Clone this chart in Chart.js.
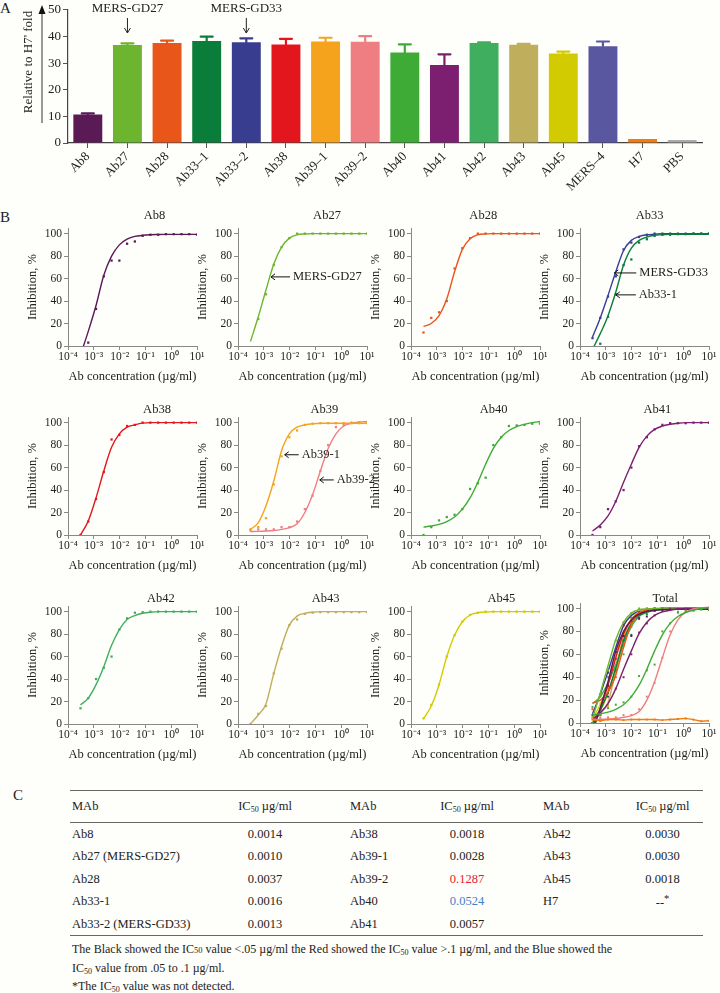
<!DOCTYPE html>
<html>
<head>
<meta charset="utf-8">
<title>MERS antibodies</title>
<script src="https://cdn.jsdelivr.net/npm/chart.js@4.4.0/dist/chart.umd.min.js"></script>
<style>
  body { margin:0; width:720px; height:993px; position:relative; overflow:hidden; background:#fefefb;
         font-family:"Liberation Serif","Times New Roman",serif; color:#222; }
  .lbl { position:absolute; font-size:15px; line-height:16px; }
  canvas { position:absolute; }
  table { position:absolute; left:70px; top:790px; width:633px; border-collapse:collapse; table-layout:fixed; font-size:12.5px; }
  th, td { padding:0; white-space:nowrap; font-weight:normal; overflow:visible; }
  thead tr { height:32px; border-top:1.5px solid #666; border-bottom:1.5px solid #666; }
  tbody tr { height:22.7px; }
  tbody tr:last-child { border-bottom:1.5px solid #666; }
  .l1 { text-align:left; padding-left:2px; }
  .l3 { text-align:left; padding-left:20px; }
  .l5 { text-align:left; padding-left:26px; }
  .c { text-align:center; }
  sub { font-size:8px; vertical-align:-2px; }
  .red { color:#e8202a; } .blue { color:#3d7fc8; }
  .note { position:absolute; left:72px; font-size:12px; line-height:14.5px; }
  .sm { font-size:8.5px; }
</style>
</head>
<body>
<div class="lbl" style="left:0;top:0">A</div>
<div class="lbl" style="left:0;top:209px">B</div>
<div class="lbl" style="left:13px;top:787px">C</div>
<canvas id="barA" width="720" height="195" style="left:0;top:0"></canvas>

<table>
  <colgroup><col style="width:130px"><col style="width:130px"><col style="width:87px"><col style="width:100px"><col style="width:105px"><col style="width:81px"></colgroup>
  <thead><tr><th class="l1">MAb</th><th class="c">IC<sub>50</sub> µg/ml</th><th class="l3">MAb</th><th class="c">IC<sub>50</sub> µg/ml</th><th class="l5">MAb</th><th class="c">IC<sub>50</sub> µg/ml</th></tr></thead>
  <tbody>
    <tr><td class="l1">Ab8</td><td class="c">0.0014</td><td class="l3">Ab38</td><td class="c">0.0018</td><td class="l5">Ab42</td><td class="c">0.0030</td></tr>
    <tr><td class="l1">Ab27 (MERS-GD27)</td><td class="c">0.0010</td><td class="l3">Ab39-1</td><td class="c">0.0028</td><td class="l5">Ab43</td><td class="c">0.0030</td></tr>
    <tr><td class="l1">Ab28</td><td class="c">0.0037</td><td class="l3">Ab39-2</td><td class="c red">0.1287</td><td class="l5">Ab45</td><td class="c">0.0018</td></tr>
    <tr><td class="l1">Ab33-1</td><td class="c">0.0016</td><td class="l3">Ab40</td><td class="c blue">0.0524</td><td class="l5">H7</td><td class="c">--<sup>*</sup></td></tr>
    <tr><td class="l1">Ab33-2 (MERS-GD33)</td><td class="c">0.0013</td><td class="l3">Ab41</td><td class="c">0.0057</td><td class="l5"></td><td class="c"></td></tr>
  </tbody>
</table>
<div class="note" style="top:942px">The Black showed the IC<span class="sm">50</span> value &lt;.05 µg/ml the Red showed the IC<sub>50</sub> value &gt;.1 µg/ml, and the Blue showed the<br>IC<sub>50</sub> value from .05 to .1 µg/ml.</div>
<div class="note" style="top:979px">*The IC<sub>50</sub> value was not detected.</div>

<script>
const F = '"Liberation Serif", "Times New Roman", serif';

// ---- panel A: fold over H7
const abLabels = ['Ab8','Ab27','Ab28','Ab33–1','Ab33–2','Ab38','Ab39–1','Ab39–2','Ab40','Ab41','Ab42','Ab43','Ab45','MERS–4','H7','PBS'];
const foldMean = [10.7, 36.8, 37.5, 38.3, 37.8, 37.0, 38.1, 38.0, 34.0, 29.3, 37.5, 36.9, 33.6, 36.3, 1.5, 1.1];
const foldErr  = [0.4, 0.6, 0.9, 1.6, 1.5, 2.1, 1.4, 2.1, 3.0, 4.0, 0.3, 0.3, 0.7, 1.8, 0, 0];
const foldTicks = [0, 10, 20, 30, 40, 50];
const barColors = ['#5a1a56','#6db52f','#e9561a','#0b7d3b','#393d8f','#e2161c','#f5a31d','#ef7e82',
                   '#3fab37','#7c1f70','#3faf5f','#bfae5c','#d3cb02','#5a57a1','#f17d12','#aaaaaa'];

// ---- panel B: 2-fold dilution series, % inhibition
const conc = [0.000305, 0.00061, 0.00122, 0.00244, 0.00488, 0.00977, 0.0195, 0.039, 0.078, 0.156, 0.3125, 0.625, 1.25, 2.5, 5, 10];
const xTicks = [0.0001, 0.001, 0.01, 0.1, 1, 10];
const xTickLabels = ['10⁻⁴', '10⁻³', '10⁻²', '10⁻¹', '10⁰', '10¹'];
const yTicks = [0, 20, 40, 60, 80, 100];

const ab8Pts   = [null, 3, 33, 62, 76, 76, 91, 93, 98, 99, 99, 99.5, 99.5, 99.5, 99.5, 99];
const ab8Fit   = [-8, 13, 36, 63, 80, 90, 95, 97.5, 98.5, 99, 99.2, 99.3, 99.3, 99.3, 99.3, 99.3];
const ab27Pts  = [null, 24, 46, 72, 88, 96, 100, 100, 100, 100, 100, 100, 100, 100, 100, 100];
const ab27Fit  = [4, 26, 50, 73, 88, 96, 99, 99.7, 100, 100, 100, 100, 100, 100, 100, 100];
const ab28Pts  = [12, 25, 30, 40, 69, 87, 96, 100, 100, 100, 100, 100, 100, 100, 100, 100];
const ab28Fit  = [17.5, 20, 27, 42, 66, 86, 95.5, 99, 99.8, 100, 100, 100, 100, 100, 100, 100];
const ab33bPts = [7, 25, 44, 62, 86, 92, 97, 99, 100, 100, 100, 100, 100, 100, 100, 100];
const ab33bFit = [8, 25, 45, 66, 85, 94, 97.5, 99, 99.5, 100, 100, 100, 100, 100, 100, 100];
const ab33aPts = [null, 2, 26, 46, 72, 77, 92, 95, 98, 99, 99, 99.5, 99.5, 100, 100, 100];
const ab33aFit = [-3, 11, 27, 48, 72, 87, 94, 97, 98.5, 99, 99.5, 99.5, 99.5, 99.5, 99.5, 99.5];
const ab38Pts  = [0, 12, 32, 56, 85, 89, 97, 98, 100, 100, 100, 100, 100, 100, 100, 100];
const ab38Fit  = [0, 12.5, 33, 57, 78, 90, 96, 98, 99.5, 100, 100, 100, 100, 100, 100, 100];
const ab39aPts = [5, 7, 15, 45, 70, 87, 93, 98, 99, 99.5, 99.5, 99.5, 99.5, 99.5, 99.5, 99.5];
const ab39aFit = [5, 11, 26, 48, 75, 90, 96, 98, 99, 99.5, 99.5, 99.5, 99.5, 99.5, 99.5, 99.5];
const ab39bPts = [4, 5, 5, 5, 7, 7, 12, 23, 35, 57, 80, 96, 98, 100, 100, 100];
const ab39bFit = [3, 3.2, 3.5, 4, 5, 6.5, 10, 20, 36, 57, 77, 90, 97, 99.5, 100.5, 101];
const ab40Pts  = [0, 7, 13, 16, 18, 23, 41, 46, 51, 80, 87, 97, 97.5, 98, 99, 99];
const ab40Fit  = [7, 8, 9.5, 12, 16, 23, 33, 47, 63, 77, 87, 93, 96.5, 98.5, 100, 101];
const ab41Pts  = [0, 7, 23, 30, 40, 60, 79, 87, 94, 98, 99.5, 99.5, 99.5, 100, 100, 100];
const ab41Fit  = [3.5, 9, 17, 30, 47, 63, 78, 88, 94, 97, 98.5, 99.5, 100, 100, 100, 100];
const ab42Pts  = [14, 23, 40, 50, 60, 84, 94, 99, 99.5, 100, 100, 100, 100, 100, 100, 100];
const ab42Fit  = [17, 23, 35, 51, 70, 84, 93, 96.5, 98.5, 99.5, 100, 100, 100, 100, 100, 100];
const ab43Pts  = [0, 9, 16, 45, 67, 88, 93, 98, 99, 99.5, 99.5, 99.5, 99.5, 99.5, 99.5, 99.5];
const ab43Fit  = [0, 8, 18, 45, 69, 88, 96, 98.5, 99.5, 100, 100, 100, 100, 100, 100, 100];
const ab45Pts  = [5, 17, 35, 60, 79, 91, 97, 99, 100, 100, 100, 100, 100, 100, 100, 100];
const ab45Fit  = [4.5, 16, 35, 60, 79, 91, 97, 99, 99.7, 100, 100, 100, 100, 100, 100, 100];
const h7Pts    = [3, 2, 3, 3, 2.5, 3, 3, 3, 3, 2.5, 3, 3.5, 4, 3, 1.5, 2];

const S = {
  ab8:  {pts: ab8Pts,   fit: ab8Fit,   color: '#5a1a56'},
  ab27: {pts: ab27Pts,  fit: ab27Fit,  color: '#6db52f'},
  ab28: {pts: ab28Pts,  fit: ab28Fit,  color: '#e9561a'},
  ab33b:{pts: ab33bPts, fit: ab33bFit, color: '#393d96'},
  ab33a:{pts: ab33aPts, fit: ab33aFit, color: '#0b7d3b'},
  ab38: {pts: ab38Pts,  fit: ab38Fit,  color: '#e2161c'},
  ab39a:{pts: ab39aPts, fit: ab39aFit, color: '#f5a31d'},
  ab39b:{pts: ab39bPts, fit: ab39bFit, color: '#ef7e82'},
  ab40: {pts: ab40Pts,  fit: ab40Fit,  color: '#3fab37'},
  ab41: {pts: ab41Pts,  fit: ab41Fit,  color: '#7c1f70'},
  ab42: {pts: ab42Pts,  fit: ab42Fit,  color: '#3faf5f'},
  ab43: {pts: ab43Pts,  fit: ab43Fit,  color: '#bfae5c'},
  ab45: {pts: ab45Pts,  fit: ab45Fit,  color: '#d3cb02'},
  h7:   {pts: h7Pts,    fit: null,     color: '#f17d12', joined: true}
};

// layout of the small plots
const cols = [68, 238, 410.5, 580];      // x of the y-axis in each column
const rowTop = [227.5, 416.5, 606];      // y of the top of each plot row
const rowTitleY = [215, 409, 599];
const plotW = 129, plotH = 118;

const panels = [
  {title:'Ab8',  r:0, c:0, tx:0.67, series:[S.ab8]},
  {title:'Ab27', r:0, c:1, tx:0.69, series:[S.ab27], notes:[{x:1.74e-3, y:61.5, len:20, text:'MERS-GD27'}]},
  {title:'Ab28', r:0, c:2, tx:0.56, series:[S.ab28]},
  {title:'Ab33', r:0, c:3, tx:0.54, series:[S.ab33a, S.ab33b],
    notes:[{x:1.95e-3, y:65, len:23, text:'MERS-GD33'}, {x:2.24e-3, y:45.5, len:21, text:'Ab33-1'}]},
  {title:'Ab38', r:1, c:0, tx:0.69, series:[S.ab38]},
  {title:'Ab39', r:1, c:1, tx:0.67, series:[S.ab39a, S.ab39b],
    notes:[{x:5.9e-3, y:71.4, len:15, text:'Ab39-1'}, {x:0.135, y:49, len:15, text:'Ab39-2'}]},
  {title:'Ab40', r:1, c:2, tx:0.64, series:[S.ab40]},
  {title:'Ab41', r:1, c:3, tx:0.60, series:[S.ab41]},
  {title:'Ab42', r:2, c:0, tx:0.72, series:[S.ab42]},
  {title:'Ab43', r:2, c:1, tx:0.68, series:[S.ab43]},
  {title:'Ab45', r:2, c:2, tx:0.70, series:[S.ab45]},
  {title:'Total', r:2, c:3, tx:0.66, top:603, h:120.5, ymax:104.8, small:true,
    series:[S.h7, S.ab40, S.ab39b, S.ab41, S.ab8, S.ab27, S.ab28, S.ab33a, S.ab38, S.ab39a, S.ab42, S.ab43, S.ab45, S.ab33b]}
];

const panelDeco = {
  id: 'panelDeco',
  afterDraw(chart, args, o) {
    const {ctx, chartArea: a, scales: {x, y}} = chart;
    ctx.save();
    ctx.fillStyle = '#222';
    ctx.font = `12.5px ${F}`;
    ctx.textAlign = 'center';
    ctx.textBaseline = 'middle';
    ctx.fillText(o.title, a.left + o.tx * (a.right - a.left), o.ty);
    (o.notes || []).forEach(n => {
      const px = x.getPixelForValue(n.x), py = y.getPixelForValue(n.y);
      ctx.strokeStyle = '#111';
      ctx.lineWidth = 1;
      ctx.beginPath();
      ctx.moveTo(px + n.len, py); ctx.lineTo(px + 1, py);
      ctx.moveTo(px + 5, py - 3); ctx.lineTo(px + 1, py); ctx.lineTo(px + 5, py + 3);
      ctx.stroke();
      ctx.textAlign = 'left';
      ctx.fillText(n.text, px + n.len + 3, py);
    });
    ctx.restore();
  }
};

function makeCurve(p) {
  const top = p.top ?? rowTop[p.r];
  const h = p.h ?? plotH;
  const cv = document.createElement('canvas');
  cv.width = 47 + plotW + 14;
  cv.height = 22 + h + 42;
  cv.style.left = (cols[p.c] - 47) + 'px';
  cv.style.top = (top - 22) + 'px';
  document.body.appendChild(cv);

  const datasets = [];
  p.series.forEach(s => {
    if (s.fit) {
      datasets.push({data: conc.map((x, i) => ({x, y: s.fit[i]})), borderColor: s.color, borderWidth: 1.4,
                     pointRadius: 0, cubicInterpolationMode: 'monotone'});
    }
    datasets.push({data: conc.map((x, i) => ({x, y: s.pts[i]})), showLine: !!s.joined, borderColor: s.color,
                   borderWidth: 1.4, backgroundColor: s.color, pointStyle: 'rect',
                   pointRadius: p.small ? 1.4 : 1.6, pointBorderWidth: 0});
  });

  const axisFont = {family: F, size: 11.5};
  const titleFont = {family: F, size: 12.5};
  new Chart(cv, {
    type: 'line',
    data: {datasets},
    options: {
      responsive: false,
      animation: false,
      layout: {padding: {top: 22, right: 14, left: 0, bottom: 0}},
      plugins: {
        legend: {display: false},
        tooltip: {enabled: false},
        panelDeco: {title: p.title, tx: p.tx, ty: rowTitleY[p.r] - (top - 22), notes: p.notes || []}
      },
      scales: {
        x: {
          type: 'logarithmic', min: 0.0001, max: 10,
          afterBuildTicks: s => { s.ticks = xTicks.map(v => ({value: v})); },
          afterFit: s => { s.height = 42; },
          ticks: {autoSkip: false, maxRotation: 0, padding: 0, color: '#222', font: axisFont,
                  callback: (v, i) => xTickLabels[i]},
          grid: {drawOnChartArea: false, tickLength: 4, color: '#888'},
          border: {color: '#888'},
          title: {display: true, text: 'Ab concentration (µg/ml)', color: '#222', font: titleFont}
        },
        y: {
          min: 0, max: p.ymax ?? 105,
          afterBuildTicks: s => { s.ticks = yTicks.map(v => ({value: v})); },
          afterFit: s => { s.width = 47; },
          ticks: {padding: 2, color: '#222', font: axisFont},
          grid: {drawOnChartArea: false, tickLength: 4, color: '#888'},
          border: {color: '#888'},
          title: {display: true, text: 'Inhibition, %', color: '#222', font: titleFont}
        }
      }
    },
    plugins: [panelDeco]
  });
}

panels.forEach(makeCurve);

// ---- panel A chart
const barDeco = {
  id: 'barDeco',
  afterDatasetsDraw(chart) {
    const {ctx, scales: {y}} = chart;
    const meta = chart.getDatasetMeta(0);
    ctx.save();
    ctx.lineWidth = 2.2;
    ctx.lineCap = 'round';
    meta.data.forEach((bar, i) => {
      if (!foldErr[i]) return;
      const y0 = y.getPixelForValue(foldMean[i]);
      const y1 = y.getPixelForValue(foldMean[i] + foldErr[i]);
      ctx.strokeStyle = barColors[i];
      ctx.beginPath();
      ctx.moveTo(bar.x, y0); ctx.lineTo(bar.x, y1);
      ctx.moveTo(bar.x - 6, y1); ctx.lineTo(bar.x + 6, y1);
      ctx.stroke();
    });
    ctx.restore();
  },
  afterDraw(chart) {
    const {ctx, scales: {x}} = chart;
    ctx.save();
    ctx.fillStyle = '#222';
    ctx.font = `13px ${F}`;
    ctx.textAlign = 'center';
    ctx.textBaseline = 'middle';
    // axis title with upward arrow
    ctx.save();
    ctx.translate(29, 62);
    ctx.rotate(-Math.PI / 2);
    ctx.fillText("Relative to H7' fold", 0, 0);
    ctx.restore();
    ctx.strokeStyle = '#777';
    ctx.lineWidth = 1.5;
    ctx.beginPath(); ctx.moveTo(42, 123); ctx.lineTo(42, 12); ctx.stroke();
    ctx.fillStyle = '#111';
    ctx.beginPath(); ctx.moveTo(42, 5); ctx.lineTo(38.5, 14); ctx.lineTo(45.5, 14); ctx.closePath(); ctx.fill();
    // callouts
    [['Ab27', 'MERS-GD27'], ['Ab33–2', 'MERS-GD33']].forEach(([cat, text]) => {
      const px = x.getPixelForValue(abLabels.indexOf(cat));
      ctx.fillStyle = '#222';
      ctx.fillText(text, px, 9);
      ctx.strokeStyle = '#222';
      ctx.lineWidth = 1;
      ctx.beginPath();
      ctx.moveTo(px, 18); ctx.lineTo(px, 33);
      ctx.moveTo(px - 3, 28); ctx.lineTo(px, 33); ctx.lineTo(px + 3, 28);
      ctx.stroke();
    });
    ctx.restore();
  }
};

new Chart(document.getElementById('barA'), {
  type: 'bar',
  data: {
    labels: abLabels,
    datasets: [{data: foldMean, backgroundColor: barColors, categoryPercentage: 1, barPercentage: 0.73, borderWidth: 0}]
  },
  options: {
    responsive: false,
    animation: false,
    layout: {padding: {top: 8, right: 18, left: 0, bottom: 0}},
    plugins: {legend: {display: false}, tooltip: {enabled: false}},
    scales: {
      x: {
        afterFit: s => { s.height = 195 - 143; },
        grid: {offset: false, drawOnChartArea: false, tickLength: 5, color: '#555'},
        border: {color: '#444', width: 1.2},
        ticks: {minRotation: 45, maxRotation: 45, autoSkip: false, padding: 1, color: '#222', font: {family: F, size: 13}}
      },
      y: {
        min: 0, max: 50,
        afterBuildTicks: s => { s.ticks = foldTicks.map(v => ({value: v})); },
        afterFit: s => { s.width = 68; },
        grid: {drawOnChartArea: false, tickLength: 5, color: '#555'},
        border: {color: '#444', width: 1.2},
        ticks: {padding: 2, color: '#222', font: {family: F, size: 13}}
      }
    }
  },
  plugins: [barDeco]
});
</script>
</body>
</html>
